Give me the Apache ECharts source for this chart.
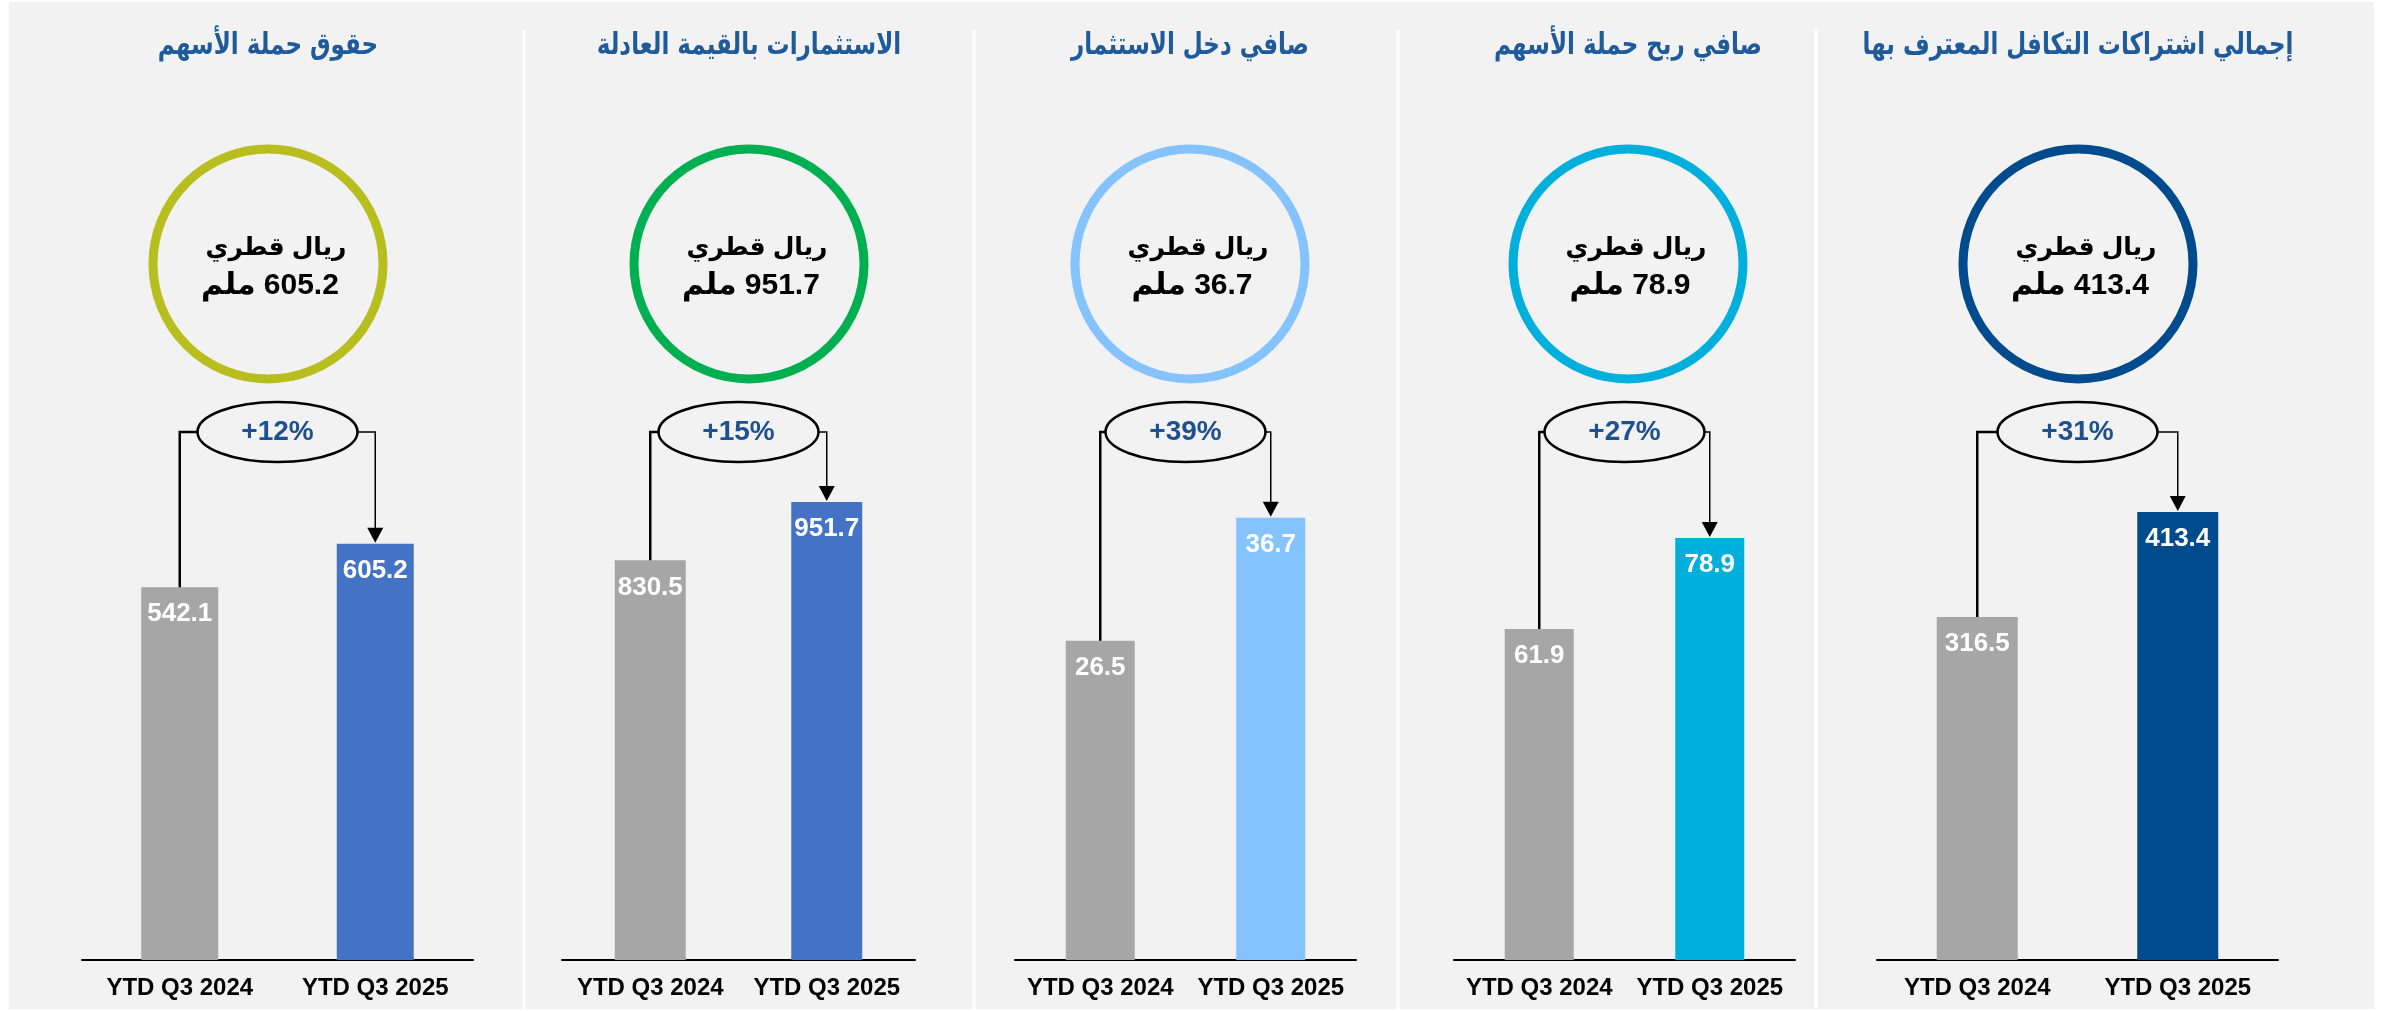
<!DOCTYPE html>
<html>
<head>
<meta charset="utf-8">
<script src="https://cdn.jsdelivr.net/npm/echarts@6/dist/echarts.min.js"></script>
<style>
html,body{margin:0;padding:0;background:#fff}
#main{width:2386px;height:1011px}
</style>
</head>
<body>
<div id="main"></div>
<script>
// data, left to right
var titles = ['حقوق حملة الأسهم', 'الاستثمارات بالقيمة العادلة', 'صافي دخل الاستثمار', 'صافي ربح حملة الأسهم', 'إجمالي اشتراكات التكافل المعترف بها'];
var periods = ['YTD Q3 2024', 'YTD Q3 2025'];
var prevValues = [542.1, 830.5, 26.5, 61.9, 316.5];
var currValues = [605.2, 951.7, 36.7, 78.9, 413.4];
var changeLabels = ['+12%', '+15%', '+39%', '+27%', '+31%'];
var unitText = 'ريال قطري';
var millionText = 'ملم';

var ringColors = ['#b7be1d', '#00b050', '#85c3ff', '#00afdc', '#004b8d'];
var barColors = ['#4472c4', '#4472c4', '#85c3ff', '#00afdb', '#004b8d'];
var prevColor = '#a6a6a6';

// panel geometry (px)
var panels = [
    { left: 82, width: 391, cx: 268, barW: 77, max: 727 },
    { left: 562, width: 353, cx: 749, barW: 71, max: 1039 },
    { left: 1015, width: 341, cx: 1190, barW: 69, max: 41.5 },
    { left: 1454, width: 341, cx: 1628, barW: 69, max: 93.5 },
    { left: 1877, width: 401, cx: 2078, barW: 81, max: 461.4 }
];
var separators = [524, 974, 1398, 1816];

var numFont = '"Liberation Sans", Arial, "DejaVu Sans", sans-serif';
var arFont = '"DejaVu Sans", "Liberation Sans", sans-serif';
var chart = echarts.init(document.getElementById('main'));

function makeRender(i) {
    return function (params, api) {
        var p0 = api.coord([0, api.value(1)]);
        var p1 = api.coord([1, api.value(3)]);
        var cx = panels[i].cx;
        var ex = (p0[0] + p1[0]) / 2, ey = 432, rx = 80, ry = 30;
        var tip = p1[1] - 1;
        return {
            type: 'group',
            children: [
                { type: 'circle', shape: { cx: cx, cy: 264, r: 115 },
                  style: { fill: 'none', stroke: ringColors[i], lineWidth: 9 } },
                { type: 'text', style: { text: unitText, x: cx + 8, y: 248, align: 'center', verticalAlign: 'middle',
                  font: 'bold 25px ' + numFont, fill: '#000' } },
                // LRM keeps the number to the right of the Arabic word
                { type: 'text', style: { text: millionText + '\u200E ' + currValues[i].toFixed(1), x: cx + 2, y: 286,
                  align: 'center', verticalAlign: 'middle', font: 'bold 30px ' + numFont, fill: '#000' } },
                { type: 'polyline', shape: { points: [[p0[0], p0[1]], [p0[0], ey], [ex - rx, ey]] },
                  style: { fill: 'none', stroke: '#000', lineWidth: 2.5 } },
                { type: 'polyline', shape: { points: [[ex + rx, ey], [p1[0], ey], [p1[0], tip - 14]] },
                  style: { fill: 'none', stroke: '#000', lineWidth: 1.5 } },
                { type: 'polygon', shape: { points: [[p1[0] - 8, tip - 15], [p1[0] + 8, tip - 15], [p1[0], tip]] },
                  style: { fill: '#000' } },
                { type: 'ellipse', shape: { cx: ex, cy: ey, rx: rx, ry: ry },
                  style: { fill: '#f2f2f2', stroke: '#000', lineWidth: 2.5 } },
                { type: 'text', style: { text: changeLabels[i], x: ex, y: ey, align: 'center', verticalAlign: 'middle',
                  font: 'bold 28px ' + numFont, fill: '#1d5191' } }
            ]
        };
    };
}

var grid = [], xAxis = [], yAxis = [], series = [];
var graphic = [{ type: 'rect', z: -10, silent: true, shape: { x: 9, y: 2, width: 2365, height: 1007 }, style: { fill: '#f2f2f2' } }];
for (var s = 0; s < separators.length; s++) {
    graphic.push({ type: 'line', z: -9, silent: true,
        shape: { x1: separators[s], y1: 30, x2: separators[s], y2: 1009 },
        style: { stroke: '#fff', lineWidth: 3 } });
}

for (var i = 0; i < panels.length; i++) {
    var p = panels[i];
    grid.push({ left: p.left, width: p.width, top: 460, bottom: 51 });
    xAxis.push({
        type: 'category', gridIndex: i, data: periods,
        axisLine: { lineStyle: { color: '#000', width: 2 } },
        axisTick: { show: false },
        axisLabel: { interval: 0, color: '#000', fontSize: 24, fontWeight: 'bold', fontFamily: numFont, margin: 16 }
    });
    yAxis.push({ type: 'value', gridIndex: i, min: 0, max: p.max, show: false, splitLine: { show: false } });
    series.push({
        type: 'bar', xAxisIndex: i, yAxisIndex: i, barWidth: p.barW,
        data: [
            { value: prevValues[i], itemStyle: { color: prevColor } },
            { value: currValues[i], itemStyle: { color: barColors[i] } }
        ],
        label: {
            show: true, position: 'insideTop', distance: 14, color: '#fff',
            fontSize: 26, fontWeight: 'bold', fontFamily: numFont,
            formatter: function (d) { return d.value.toFixed(1); }
        }
    });
    series.push({
        type: 'custom', xAxisIndex: i, yAxisIndex: i, z: 5,
        data: [[0, prevValues[i], 1, currValues[i]]],
        encode: { x: 0, y: 1 },
        renderItem: makeRender(i)
    });
    // panel heading, stretched a little to get the tall look of the original font
    graphic.push({
        type: 'text', x: p.cx, y: 46, scaleY: 1.3, silent: true,
        style: { text: titles[i], align: 'center', verticalAlign: 'middle',
                 font: 'bold 23px ' + arFont, fill: '#1f5a9a' }
    });
}

chart.setOption({
    backgroundColor: '#fff',
    animation: false,
    grid: grid,
    xAxis: xAxis,
    yAxis: yAxis,
    series: series,
    graphic: graphic
});
</script>
</body>
</html>
